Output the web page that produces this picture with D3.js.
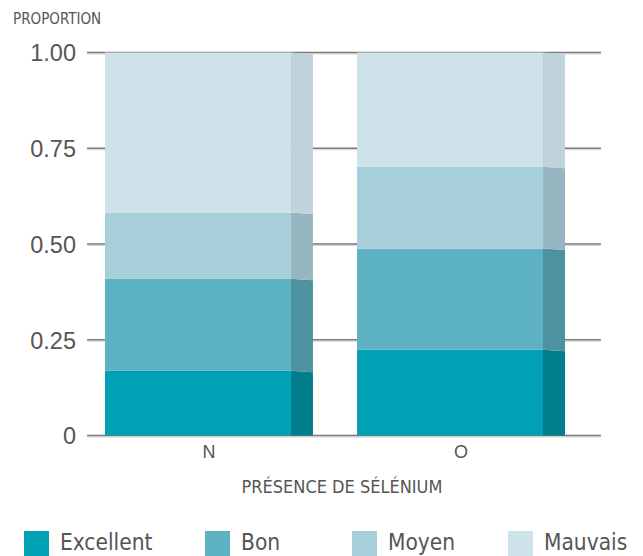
<!DOCTYPE html>
<html><head><meta charset="utf-8">
<script src="https://cdn.jsdelivr.net/npm/d3@7"></script>
<style>
body{margin:0;background:#fff;}
svg{font-family:"DejaVu Sans Condensed","DejaVu Sans",sans-serif;font-stretch:condensed;}
</style></head>
<body><svg id="c" width="643" height="556"></svg>
<script>
const categories = ["N", "O"];
const seriesNames = ["Excellent", "Bon", "Moyen", "Mauvais"];
const excellent = [0.169, 0.224];
const bon = [0.240, 0.264];
const moyen = [0.173, 0.214];
const mauvais = [0.418, 0.298];
const tickValues = [0, 0.25, 0.5, 0.75, 1.0];
const tickLabels = ["0", "0.25", "0.50", "0.75", "1.00"];
const colors = ["#00a1b5", "#5cb1c3", "#a7cfd9", "#cee2e9"];
const sideColors = ["#007e8b", "#4c929f", "#96b7c1", "#c0d3da"];

const svg = d3.select("#c");
const x0 = 87, x1 = 601;
const y = d3.scaleLinear().domain([0, 1]).range([435.5, 52.5]);
const x = d3.scaleBand().domain(categories).range([87, 583]).paddingInner(0.175).paddingOuter(0.0714);

// grid lines
const g = svg.append("g");
tickValues.forEach(v => {
  g.append("line").attr("x1", x0).attr("x2", x1).attr("y1", y(v) + 1.5).attr("y2", y(v) + 1.5)
    .attr("stroke", "#d4d4d4").attr("stroke-width", 1);
  g.append("line").attr("x1", x0).attr("x2", x1).attr("y1", y(v)).attr("y2", y(v))
    .attr("stroke", "#7a7a7a").attr("stroke-width", 1.6);
});
// y axis tick labels
const yAxis = d3.axisLeft(y).tickValues(tickValues).tickFormat((d, i) => tickLabels[i]).tickSize(0).tickPadding(0);
const ya = svg.append("g").attr("transform", "translate(76,0)").call(yAxis);
ya.select(".domain").remove();
ya.selectAll("text").attr("font-size", 23.5).attr("fill", "#555").attr("font-family", "inherit").attr("dy", "0.36em");

// stacked data
const series = [excellent, bon, moyen, mauvais];
const data = categories.map((c, i) => {
  const o = {cat: c};
  seriesNames.forEach((s, j) => o[s] = series[j][i]);
  return o;
});
const stack = d3.stack().keys(seriesNames)(data);

const bw = x.bandwidth();
const sideW = 22;
const frontW = bw - sideW;
stack.forEach((layer, j) => {
  const lg = svg.append("g");
  lg.selectAll("rect").data(layer).enter().append("rect")
    .attr("x", d => x(d.data.cat))
    .attr("y", d => y(d[1]))
    .attr("width", frontW)
    .attr("height", d => y(d[0]) - y(d[1]))
    .attr("fill", colors[j]);
  lg.selectAll("path").data(layer).enter().append("path")
    .attr("d", d => {
      const xa = x(d.data.cat) + frontW, xb = xa + sideW;
      const t = y(d[1]), b = y(d[0]);
      const dt = j === 3 ? 2 : 1.5;
      const db = d[0] === 0 ? 0 : 1.5;
      return `M${xa},${t}L${xb},${t + dt}L${xb},${b + db}L${xa},${b}Z`;
    })
    .attr("fill", sideColors[j]);
});

// x axis labels
const xAxis = d3.axisBottom(x).tickSize(0).tickPadding(0);
const xa = svg.append("g").attr("transform", "translate(0,445)").call(xAxis);
xa.select(".domain").remove();
xa.selectAll("text").attr("font-size", 18).attr("fill", "#555").attr("font-family", "inherit").attr("dy", "0.71em");

svg.append("text").attr("x", 342).attr("y", 493).attr("text-anchor", "middle")
  .attr("font-size", 18).attr("fill", "#555").text("PRÉSENCE DE SÉLÉNIUM");
svg.append("text").attr("x", 13).attr("y", 23.5).attr("font-size", 15).attr("fill", "#555").text("PROPORTION");

// legend
const legX = [24, 205, 352, 508];
const leg = svg.append("g");
seriesNames.forEach((s, j) => {
  leg.append("rect").attr("x", legX[j]).attr("y", 531).attr("width", 25).attr("height", 25).attr("fill", colors[j]);
  leg.append("text").attr("x", legX[j] + 36).attr("y", 550).attr("font-size", 22.5).attr("fill", "#555").text(s);
});
</script></body></html>
